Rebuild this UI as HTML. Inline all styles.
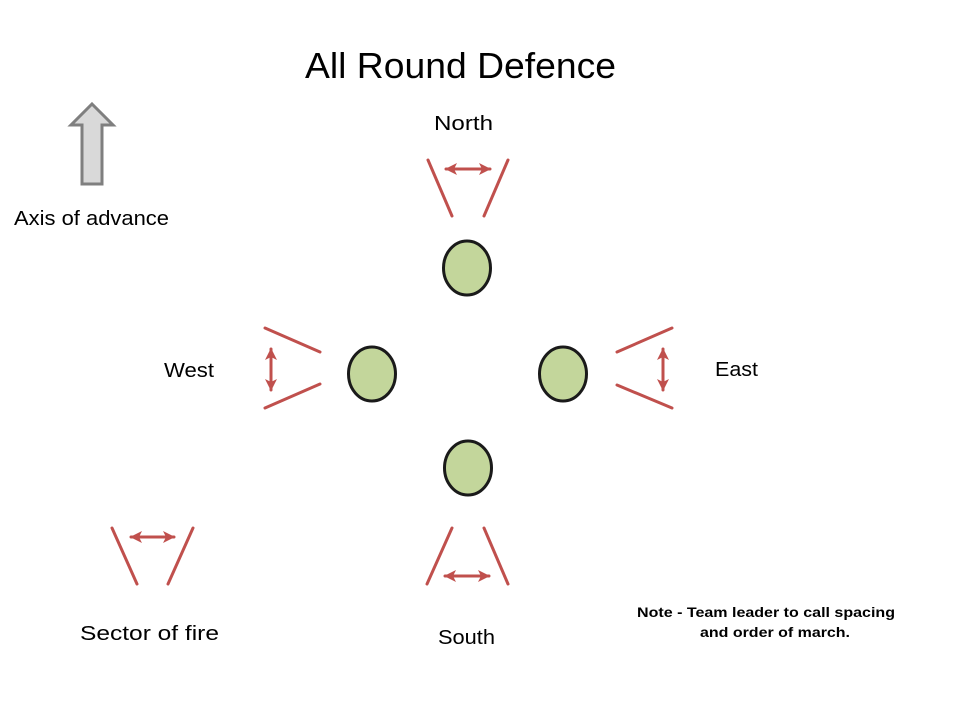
<!DOCTYPE html>
<html><head><meta charset="utf-8"><style>
html,body{margin:0;padding:0;background:#fff;width:960px;height:720px;overflow:hidden}
svg{display:block}
text{font-family:"Liberation Sans",sans-serif;fill:#000}
</style></head><body>
<svg width="960" height="720" viewBox="0 0 960 720" xmlns="http://www.w3.org/2000/svg">
<defs>
<marker id="ah" markerWidth="14" markerHeight="14" refX="11" refY="6" orient="auto-start-reverse" markerUnits="userSpaceOnUse">
<path d="M0,0 L12,6 L0,12 L3,6 Z" fill="#c0504d"/>
</marker>
</defs>
<text x="305" y="78" font-size="36" textLength="311" lengthAdjust="spacingAndGlyphs">All Round Defence</text>
<text x="434" y="130" font-size="20" textLength="59" lengthAdjust="spacingAndGlyphs">North</text>
<text x="14" y="225" font-size="20" textLength="155" lengthAdjust="spacingAndGlyphs">Axis of advance</text>
<text x="164" y="377" font-size="20" textLength="50" lengthAdjust="spacingAndGlyphs">West</text>
<text x="715" y="376" font-size="20" textLength="43" lengthAdjust="spacingAndGlyphs">East</text>
<text x="80" y="640" font-size="20" textLength="139" lengthAdjust="spacingAndGlyphs">Sector of fire</text>
<text x="438" y="644" font-size="20" textLength="57" lengthAdjust="spacingAndGlyphs">South</text>
<text x="637" y="617" font-size="14" font-weight="bold" textLength="258" lengthAdjust="spacingAndGlyphs">Note - Team leader to call spacing</text>
<text x="700" y="637" font-size="14" font-weight="bold" textLength="150" lengthAdjust="spacingAndGlyphs">and order of march.</text>

<polygon points="92,104 113,125 102,125 102,184 82,184 82,125 71,125" fill="#d9d9d9" stroke="#7f7f7f" stroke-width="3"/>

<g fill="#c3d69b" stroke="#1a1a1a" stroke-width="3">
<ellipse cx="467" cy="268" rx="23.5" ry="27"/>
<ellipse cx="372" cy="374" rx="23.5" ry="27"/>
<ellipse cx="563" cy="374" rx="23.5" ry="27"/>
<ellipse cx="468" cy="468" rx="23.5" ry="27"/>
</g>

<g stroke="#c0504d" stroke-width="3" stroke-linecap="round" fill="none">
<line x1="428" y1="160" x2="452" y2="216"/>
<line x1="508" y1="160" x2="484" y2="216"/>
<line x1="446" y1="169" x2="490" y2="169" marker-start="url(#ah)" marker-end="url(#ah)"/>

<line x1="265" y1="328" x2="320" y2="352"/>
<line x1="265" y1="408" x2="320" y2="384"/>
<line x1="271" y1="349" x2="271" y2="390" marker-start="url(#ah)" marker-end="url(#ah)"/>

<line x1="672" y1="328" x2="617" y2="352"/>
<line x1="672" y1="408" x2="617" y2="385"/>
<line x1="663" y1="349" x2="663" y2="390" marker-start="url(#ah)" marker-end="url(#ah)"/>

<line x1="452" y1="528" x2="427" y2="584"/>
<line x1="484" y1="528" x2="508" y2="584"/>
<line x1="445" y1="576" x2="489" y2="576" marker-start="url(#ah)" marker-end="url(#ah)"/>

<line x1="112" y1="528" x2="137" y2="584"/>
<line x1="193" y1="528" x2="168" y2="584"/>
<line x1="131" y1="537" x2="174" y2="537" marker-start="url(#ah)" marker-end="url(#ah)"/>
</g>
</svg>
</body></html>
